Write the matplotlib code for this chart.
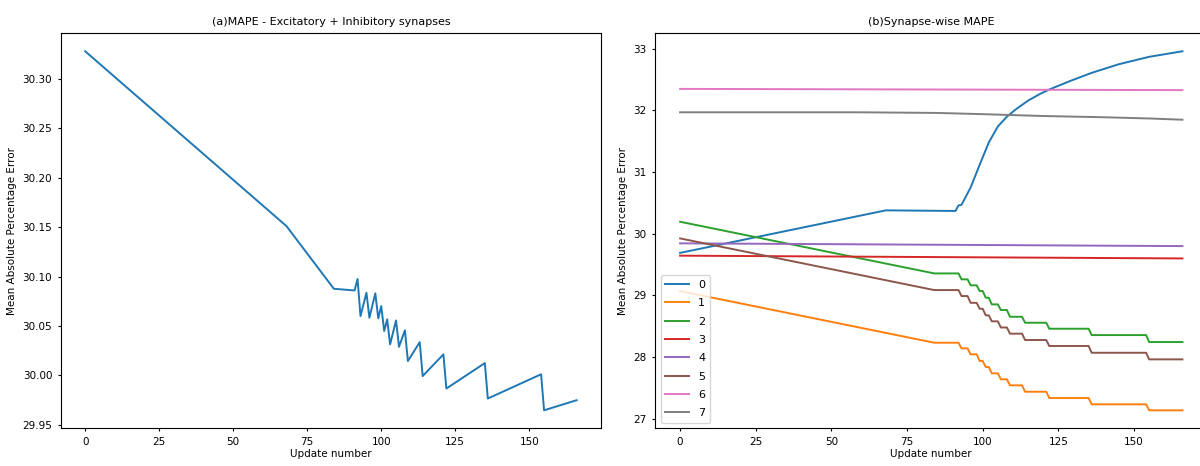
import numpy as np
import matplotlib
matplotlib.use("Agg")
import matplotlib.pyplot as plt

# (a) total MAPE, breakpoints
upd_a = [0, 68, 84, 91, 92, 93, 95, 96, 98, 99, 100, 101, 102, 103, 105, 106,
         108, 109, 113, 114, 121, 122, 135, 136, 154, 155, 166]
mape_a = [30.3276, 30.1509, 30.0876, 30.0859, 30.0975, 30.0600, 30.0836, 30.0583,
          30.0830, 30.0577, 30.0701, 30.0449, 30.0567, 30.0314, 30.0556, 30.0290,
          30.0456, 30.0146, 30.0336, 29.9994, 30.0213, 29.9868, 30.0125, 29.9767,
          30.0012, 29.9648, 29.9750]

# (b) synapse-wise MAPE
upd_b0 = [0, 68, 91, 92, 93, 96, 99, 102, 105, 108, 111, 115, 119, 122, 129,
          136, 145, 155, 166]
syn0 = [29.69, 30.38, 30.37, 30.46, 30.47, 30.75, 31.12, 31.48, 31.74, 31.90,
        32.02, 32.16, 32.27, 32.34, 32.48, 32.61, 32.75, 32.87, 32.96]

# stepped series share the same update points
upd_step = [0, 84, 92, 93, 95, 96, 98, 99, 100, 101, 102, 103, 105, 106, 108,
            109, 113, 114, 121, 122, 135, 136, 154, 155, 166]
start_1, levels_1 = 29.07, [28.233, 28.142, 28.045, 27.936, 27.839, 27.737,
                            27.640, 27.542, 27.438, 27.336, 27.234, 27.137]
start_2, levels_2 = 30.195, [29.357, 29.261, 29.164, 29.071, 28.963, 28.855,
                             28.763, 28.654, 28.557, 28.460, 28.357, 28.244]
start_5, levels_5 = 29.925, [29.087, 28.990, 28.880, 28.784, 28.677, 28.580,
                             28.480, 28.380, 28.277, 28.180, 28.070, 27.963]

upd_flat = [0, 166]
syn3 = [29.645, 29.60]
syn4 = [29.845, 29.80]
syn6 = [32.35, 32.33]
upd_b7 = [0, 60, 85, 100, 120, 140, 155, 166]
syn7 = [31.97, 31.97, 31.96, 31.94, 31.91, 31.89, 31.87, 31.85]


def stepped(start, levels):
    # each level is held flat, then drops one update later
    vals = [start]
    for lv in levels:
        vals += [lv, lv]
    return vals[:len(upd_step)]


plt.rcParams['font.family'] = ['DejaVu Sans']
plt.rcParams['font.size'] = 7.5
plt.rcParams['xtick.labelsize'] = 7.5
plt.rcParams['ytick.labelsize'] = 7.5
plt.rcParams['xtick.major.size'] = 2.5
plt.rcParams['ytick.major.size'] = 2.5
plt.rcParams['lines.linewidth'] = 1.4

fig = plt.figure(figsize=(12, 4.66), dpi=100)
ax1 = fig.add_axes([0.0505, 0.081, 0.4505, 0.8475])
ax2 = fig.add_axes([0.5458, 0.081, 0.4605, 0.8475])

ax1.plot(upd_a, mape_a, color='C0')
ax1.set_title('(a)MAPE - Excitatory + Inhibitory synapses', fontsize=8)
ax1.set_xlabel('Update number', labelpad=2)
ax1.set_ylabel('Mean Absolute Percentage Error')
ax1.set_xticks([0, 25, 50, 75, 100, 125, 150])

series = [
    (upd_b0, syn0),
    (upd_step, stepped(start_1, levels_1)),
    (upd_step, stepped(start_2, levels_2)),
    (upd_flat, syn3),
    (upd_flat, syn4),
    (upd_step, stepped(start_5, levels_5)),
    (upd_flat, syn6),
    (upd_b7, syn7),
]
for i, (xs, ys) in enumerate(series):
    ax2.plot(xs, ys, color='C%d' % i, label=str(i))

ax2.set_title('(b)Synapse-wise MAPE', fontsize=8)
ax2.set_xlabel('Update number', labelpad=2)
ax2.set_ylabel('Mean Absolute Percentage Error')
ax2.set_xticks([0, 25, 50, 75, 100, 125, 150])
ax2.legend(loc='lower left', fontsize=8, labelspacing=0.75, handlelength=2.2)

fig.savefig('out.png', dpi=100)
